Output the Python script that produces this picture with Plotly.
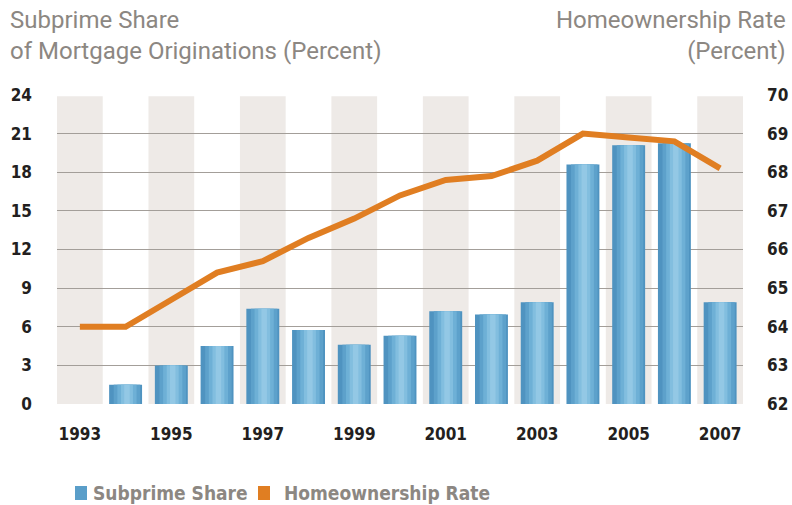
import plotly.graph_objects as go

years = list(range(1993, 2008))
subprime_share = [0, 1.5, 3.0, 4.5, 7.4, 5.75, 4.6, 5.3, 7.2, 6.95, 7.9, 18.6, 20.1, 20.25, 7.9]
homeownership = [64.0, 64.0, 64.7, 65.4, 65.7, 66.3, 66.8, 67.4, 67.8, 67.9, 68.3, 69.0, 68.9, 68.8, 68.1]
left_ticks = [0, 3, 6, 9, 12, 15, 18, 21, 24]
right_ticks = [62, 63, 64, 65, 66, 67, 68, 69, 70]
x_ticks = [1993, 1995, 1997, 1999, 2001, 2003, 2005, 2007]

COND = "DejaVu Sans Condensed, Roboto, sans-serif"
TICK_FONT = dict(family=COND, size=17, color="#231f20", weight="bold")
GRAY_TXT = "#8c8782"
BLUE = "#5a9ec9"
ORANGE = "#e07e22"

L, R, T, B = 57, 49, 95, 101
PW, PH = 792 - L - R, 505 - T - B


def px(x):
    return (x - L) / PW


def py(y):
    return (505 - B - y) / PH


fig = go.Figure()

# gradient-like bars: base plus lighter narrower overlays
layers = [(0.72, "#4f93c0"), (0.58, "#5da1cb"), (0.42, "#6eb0d6"), (0.26, "#82bedf"), (0.12, "#93c8e5")]
for i, (w, c) in enumerate(layers):
    fig.add_trace(go.Bar(
        x=years, y=subprime_share, width=w, marker=dict(color=c, line=dict(width=0)),
        name="Subprime Share", showlegend=False,
        offset=-w / 2 + (0.03 if i else 0),
    ))

fig.add_trace(go.Scatter(
    x=years, y=homeownership, yaxis="y2", mode="lines",
    line=dict(color=ORANGE, width=6), name="Homeownership Rate", showlegend=False,
))

# alternating gray bands for odd years
for yr in x_ticks:
    fig.add_shape(type="rect", xref="x", yref="y", x0=yr - 0.5, x1=yr + 0.5, y0=0, y1=23.9,
                  fillcolor="#eeeae7", line=dict(width=0), layer="below")

# manual legend
legend_items = [("Subprime Share", BLUE, 75, 91), ("Homeownership Rate", ORANGE, 258, 282)]
annotations = []
for name, col, sx, tx in legend_items:
    fig.add_shape(type="rect", xref="paper", yref="paper", x0=px(sx), x1=px(sx + 12),
                  y0=py(500), y1=py(486), fillcolor=col, line=dict(width=0))
    annotations.append(dict(text=name, xref="paper", yref="paper", x=px(tx), y=py(493),
                            xanchor="left", yanchor="middle", showarrow=False,
                            font=dict(family=COND, size=19, color=GRAY_TXT, weight="bold")))

annotations += [
    dict(text="Subprime Share<br>of Mortgage Originations (Percent)", xref="paper", yref="paper",
         x=px(8), y=py(4), xanchor="left", yanchor="top", align="left", showarrow=False,
         font=dict(family="Roboto, sans-serif", size=24, color=GRAY_TXT)),
    dict(text="Homeownership Rate<br>(Percent)", xref="paper", yref="paper",
         x=px(788), y=py(4), xanchor="right", yanchor="top", align="right", showarrow=False,
         font=dict(family="Roboto, sans-serif", size=24, color=GRAY_TXT)),
]

fig.update_layout(
    width=792, height=505,
    margin=dict(l=L, r=R, t=T, b=B, autoexpand=False),
    plot_bgcolor="white", paper_bgcolor="white",
    barmode="overlay",
    showlegend=False,
    xaxis=dict(range=[1992.5, 2007.5], tickvals=x_ticks, ticktext=[str(v) for v in x_ticks],
               showgrid=False, zeroline=False, showline=False, ticks="",
               tickfont=TICK_FONT, ticklabelstandoff=18, automargin=False),
    yaxis=dict(range=[0, 24], tickvals=left_ticks, showgrid=True, gridcolor="#a39e99",
               gridwidth=1, zeroline=False, showline=False, ticks="", tickfont=TICK_FONT,
               ticklabelstandoff=24, automargin=False),
    yaxis2=dict(range=[62, 70], tickvals=right_ticks, overlaying="y", side="right",
                showgrid=False, zeroline=False, showline=False, ticks="", tickfont=TICK_FONT,
                ticklabelstandoff=23, automargin=False),
    annotations=annotations,
)

fig.write_html("out.html")
